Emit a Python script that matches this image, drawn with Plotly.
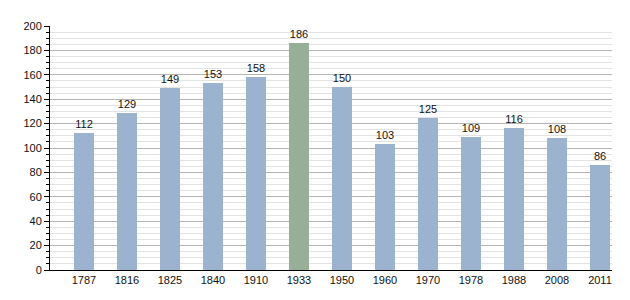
import plotly.graph_objects as go

years = ["1787", "1816", "1825", "1840", "1910", "1933", "1950", "1960", "1970", "1978", "1988", "2008", "2011"]
population = [112, 129, 149, 153, 158, 186, 150, 103, 125, 109, 116, 108, 86]
highlight_year = "1933"

blue = "#9bb3cf"
green = "#97ae97"
colors = [green if y == highlight_year else blue for y in years]
xpos = list(range(len(years)))

fig = go.Figure()
fig.add_trace(go.Bar(
    x=xpos, y=population, width=0.47,
    marker=dict(color=colors, line=dict(width=0)),
    text=[str(v) for v in population], textposition="outside",
    textfont=dict(family="Liberation Sans, Arial", size=11, color="#111"),
    cliponaxis=False,
))
fig.update_layout(
    width=630, height=300,
    margin=dict(l=50, r=18, t=26, b=30),
    paper_bgcolor="white", plot_bgcolor="white",
    showlegend=False, bargap=0,
    font=dict(family="Liberation Sans, Arial", size=11, color="#111"),
)
fig.update_xaxes(
    range=[-0.79, 12.28], tickmode="array", tickvals=xpos, ticktext=years,
    showgrid=False, showline=True, linecolor="black", linewidth=1,
    ticks="", zeroline=False, fixedrange=True,
)
fig.update_yaxes(
    range=[0, 200], dtick=20, showgrid=True, gridcolor="#b5b5b5", gridwidth=1,
    showline=True, linecolor="black", linewidth=1,
    ticks="outside", ticklen=5, tickcolor="black",
    zeroline=False,
    minor=dict(dtick=5, showgrid=True, gridcolor="#e3e3e3", gridwidth=1,
               ticks="outside", ticklen=3, tickcolor="black"),
)
fig.write_html("out.html")
